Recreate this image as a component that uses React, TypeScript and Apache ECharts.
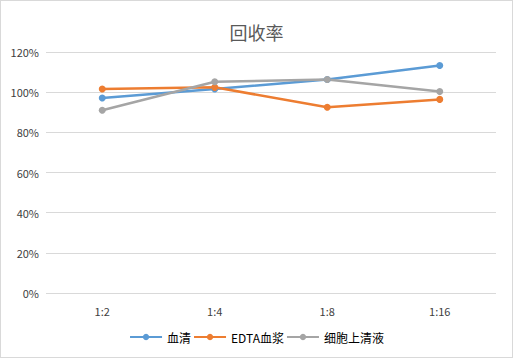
import React, { useEffect, useRef } from "react";
import * as echarts from "echarts";

const categories = ["1:2", "1:4", "1:8", "1:16"];
const serum = [97.1, 101.6, 106.3, 113.3];
const edtaPlasma = [101.6, 102.4, 92.5, 96.4];
const cellSupernatant = [91.0, 105.2, 106.3, 100.3];
const seriesNames = ["血清", "EDTA血浆", "细胞上清液"];
const colors = ["#5B9BD5", "#ED7D31", "#A5A5A5"];

export default function App() {
  const ref = useRef<HTMLDivElement>(null);
  useEffect(() => {
    document.body.style.margin = "0";
    const chart = echarts.init(ref.current!, null, { renderer: "svg" });
    const font = "'Microsoft YaHei', 'Noto Sans CJK SC', sans-serif";
    const data = [serum, edtaPlasma, cellSupernatant];
    chart.setOption({
      animation: false,
      backgroundColor: "#fff",
      title: {
        text: "回收率",
        left: "center",
        top: 17,
        textStyle: { fontSize: 18, fontWeight: "normal", color: "#595959", fontFamily: font },
      },
      legend: {
        bottom: 9,
        left: "center",
        itemGap: 2,
        itemWidth: 32,
        itemHeight: 8,
        textStyle: { fontSize: 12, color: "#000", fontFamily: font },
        data: seriesNames,
      },
      grid: { left: 45, right: 16, top: 51, bottom: 64 },
      xAxis: {
        type: "category",
        data: categories,
        boundaryGap: true,
        axisLine: { show: false },
        axisTick: { show: false },
        axisLabel: { color: "#404040", fontSize: 11, margin: 12, fontFamily: font },
      },
      yAxis: {
        type: "value",
        min: 0,
        max: 120,
        interval: 20,
        axisLine: { show: false },
        axisTick: { show: false },
        splitLine: { lineStyle: { color: "#D9D9D9", width: 1 } },
        axisLabel: { color: "#404040", fontSize: 11, margin: 7, formatter: "{value}%", fontFamily: font },
      },
      series: seriesNames.map((name, i) => ({
        name,
        type: "line",
        data: data[i],
        symbol: "circle",
        symbolSize: 7,
        lineStyle: { width: 2.5, color: colors[i] },
        itemStyle: { color: colors[i] },
      })),
    });
    return () => chart.dispose();
  }, []);
  return (
    <div
      ref={ref}
      style={{ width: 513, height: 358, boxSizing: "border-box", border: "1px solid #D9D9D9" }}
    />
  );
}
